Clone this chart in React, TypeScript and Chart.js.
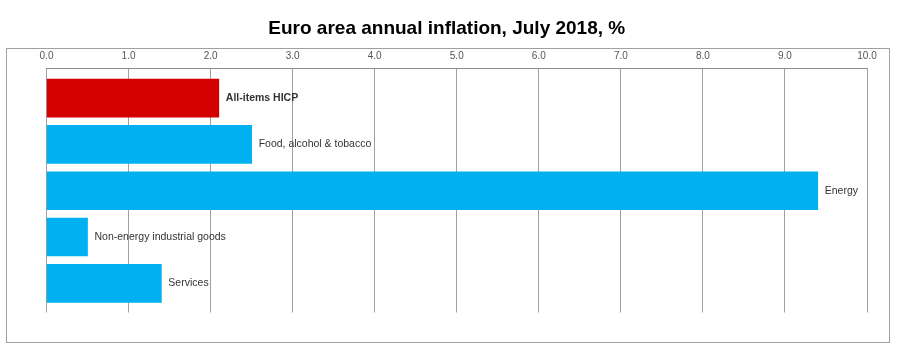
import React, { useEffect, useRef } from "react";
import { Chart, registerables } from "chart.js";

Chart.register(...registerables);

const chartTitle = "Euro area annual inflation, July 2018, %";
const categories = [
  "All-items HICP",
  "Food, alcohol & tobacco",
  "Energy",
  "Non-energy industrial goods",
  "Services",
];
const values = [2.1, 2.5, 9.4, 0.5, 1.4];
const barColors = ["#d40000", "#00b0f0", "#00b0f0", "#00b0f0", "#00b0f0"];
const boldLabels = [true, false, false, false, false];
const xMin = 0;
const xMax = 10;
const xStep = 1;

const FONT = '"Liberation Sans", Arial, Helvetica, sans-serif';

const framePlugin = {
  id: "frame",
  beforeDraw(chart: any) {
    const { ctx, chartArea, width, height } = chart;
    ctx.save();
    ctx.fillStyle = "#ffffff";
    ctx.fillRect(0, 0, width, height);
    ctx.strokeStyle = "#a0a0a0";
    ctx.lineWidth = 1;
    const left = Math.round(chartArea.left - 41) + 0.5;
    const top = Math.round(chartArea.top - 20) + 0.5;
    const right = Math.round(chartArea.right + 22) + 0.5;
    const bottom = Math.round(chartArea.bottom + 29) + 0.5;
    ctx.strokeRect(left, top, right - left, bottom - top);
    ctx.restore();
  },
};

const barLabelPlugin = {
  id: "barLabels",
  afterDatasetsDraw(chart: any) {
    const { ctx } = chart;
    const meta = chart.getDatasetMeta(0);
    meta.data.forEach((el: any, i: number) => {
      ctx.save();
      ctx.font = `${boldLabels[i] ? "bold " : ""}10.5px ${FONT}`;
      ctx.fillStyle = "#333333";
      ctx.textBaseline = "middle";
      ctx.textAlign = "left";
      ctx.fillText(categories[i], el.x + 7, el.y);
      ctx.restore();
    });
  },
};

export default function App() {
  const canvasRef = useRef<HTMLCanvasElement | null>(null);

  useEffect(() => {
    if (!canvasRef.current) return;
    const chart = new Chart(canvasRef.current, {
      type: "bar",
      data: {
        datasets: [
          {
            data: values.map((v, i) => ({ x: v, y: i })),
            backgroundColor: barColors,
            borderWidth: 0,
            barThickness: 38,
          },
        ],
      },
      options: {
        animation: false,
        responsive: false,
        devicePixelRatio: 1,
        indexAxis: "y",
        layout: {
          padding: { left: 26.5, right: 33, top: 0, bottom: 49.5 },
        },
        plugins: {
          legend: { display: false },
          tooltip: { enabled: false },
          title: {
            display: true,
            text: chartTitle,
            color: "#000000",
            font: { family: FONT, size: 19, weight: "bold" },
            padding: { top: 17, bottom: 4.2 },
          },
        },
        scales: {
          x: {
            type: "linear",
            position: "top",
            min: xMin,
            max: xMax,
            ticks: {
              stepSize: xStep,
              color: "#555555",
              font: { family: FONT, size: 10 },
              padding: 6,
              callback: (v: any) => Number(v).toFixed(1),
            },
            grid: {
              color: "#a0a0a0",
              lineWidth: 1,
              drawTicks: false,
            },
            border: { display: true, color: "#8c8c8c" },
          },
          y: {
            type: "linear",
            display: true,
            reverse: true,
            offset: false,
            min: -0.65,
            max: 4.63,
            ticks: { display: false },
            grid: { display: false, offset: false, drawTicks: false },
            border: { display: false },
            afterFit: (scale: any) => {
              scale.width = 20;
            },
          },
        },
      },
      plugins: [framePlugin, barLabelPlugin],
    } as any);
    return () => chart.destroy();
  }, []);

  return (
    <div style={{ position: "fixed", left: 0, top: 0, width: 900, height: 362, background: "#fff" }}>
      <canvas ref={canvasRef} width={900} height={362} style={{ display: "block" }} />
    </div>
  );
}
